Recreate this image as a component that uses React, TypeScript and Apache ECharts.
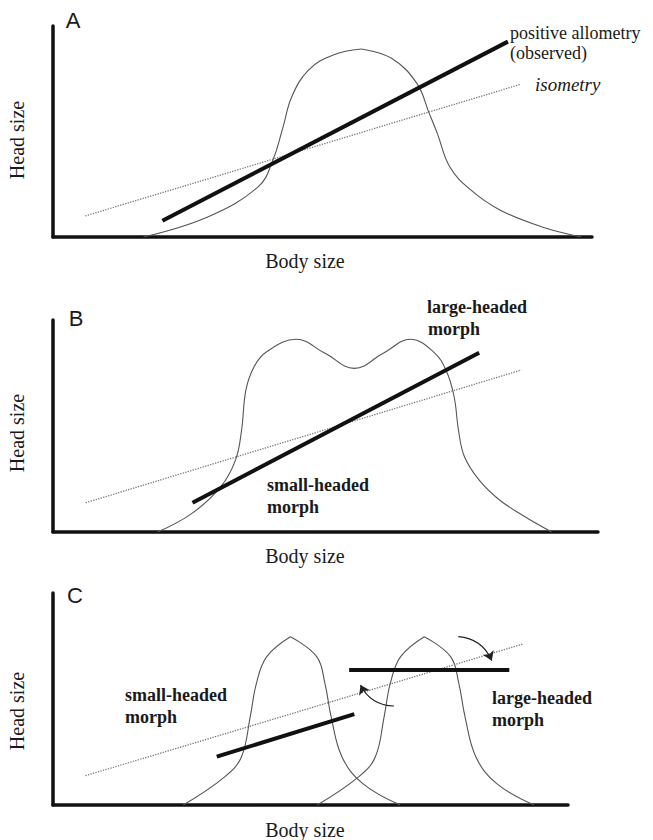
import React, { useEffect, useRef } from "react";
import * as echarts from "echarts";

// Panel A: unimodal size distribution
const curveAX = [16.8, 28.8, 38.1, 40.8, 42.7, 44.3, 47.4, 52, 57.2, 62.8, 67.5, 69.8, 71.3, 73.6, 77.5, 82.9, 90.6, 98];
const curveAY = [0, 9.6, 23.9, 36.5, 52.3, 66.5, 79.1, 86.3, 89.1, 84.7, 72.8, 58.6, 49.1, 33.3, 22.3, 12.8, 4.9, 0];
const allometryAX = [20.3, 84.4];
const allometryAY = [7.7, 92.6];
const isometryAX = [6, 86.8];
const isometryAY = [10, 72.4];

// Panel B: bimodal distribution
const curveBX = [19.2, 25.5, 30.8, 33.5, 34.6, 35.4, 36.9, 39.2, 44.6, 49.9, 55.3, 60.6, 65.6, 69.8, 72.1, 73.6, 74.4, 75.5, 78.2, 82, 86.6, 91.5];
const curveBY = [0, 8.8, 21.4, 34, 48, 67, 78, 85, 90.9, 84.3, 77.2, 84.3, 90.9, 85, 76.4, 63.8, 48, 35.5, 24.5, 15, 7.2, 0];
const allometryBX = [25.6, 78.2];
const allometryBY = [13.8, 84.6];
const isometryBX = [6, 85.9];
const isometryBY = [13.8, 76.4];

// Panel C: two separate morphs
const curveC1X = [25.3, 33.4, 36.6, 38.3, 39.5, 41.5, 46.1, 51.2, 52.8, 54, 56.1, 60.1, 67.4];
const curveC1Y = [0, 13.4, 22.8, 41.7, 57.4, 70, 79.4, 70, 57.4, 41.7, 22.8, 10.2, 0];
const curveC2X = [51.3, 59.4, 62.6, 64.3, 65.5, 67.5, 72.1, 77.2, 78.8, 80, 82.1, 86.1, 93.4];
const curveC2Y = [0, 13.4, 22.8, 41.7, 57.4, 70, 79.4, 70, 57.4, 41.7, 22.8, 10.2, 0];
const smallMorphCX = [31.8, 58.5];
const smallMorphCY = [22.8, 42.9];
const largeMorphCX = [57.5, 88.6];
const largeMorphCY = [63.7, 63.7];
const isometryCX = [6.3, 91.2];
const isometryCY = [13.8, 75.9];
const arrowDownX = [78.7, 85.2];
const arrowDownY = [79.4, 68.1];
const arrowUpX = [66.2, 59.7];
const arrowUpY = [46.7, 56.6];

const SERIF = '"Liberation Serif", "Times New Roman", serif';
const SANS = '"Liberation Sans", Arial, sans-serif';

const pts = (xs: number[], ys: number[]) => xs.map((x, i) => [x, ys[i]]);

export default function App() {
  const ref = useRef<HTMLDivElement>(null);
  useEffect(() => {
    if (!ref.current) return;
    const chart = echarts.init(ref.current, null, { renderer: "svg" });

    const grids = [
      { left: 53, top: 26, width: 539, height: 211 },
      { left: 53, top: 320, width: 545, height: 212 },
      { left: 53, top: 593, width: 515, height: 212 },
    ];
    const axisCommon = {
      type: "value" as const,
      min: 0,
      max: 100,
      axisTick: { show: false },
      axisLabel: { show: false },
      splitLine: { show: false },
      axisLine: { show: true, lineStyle: { color: "#111", width: 3.5 } },
    };
    const xAxes = grids.map((_, i) => ({ ...axisCommon, gridIndex: i }));
    const yAxes = grids.map((_, i) => ({ ...axisCommon, gridIndex: i }));

    const curveSeries = (i: number, data: number[][]) => ({
      type: "line",
      xAxisIndex: i,
      yAxisIndex: i,
      data,
      smooth: 0.4,
      showSymbol: false,
      symbol: "none",
      lineStyle: { color: "#555", width: 1.1 },
      z: 2,
    });
    const curve = (i: number, xs: number[], ys: number[]) => [curveSeries(i, pts(xs, ys))];
    // pointed peak: split the smooth curve at its maximum
    const peakedCurve = (i: number, xs: number[], ys: number[]) => {
      const all = pts(xs, ys);
      let k = 0;
      ys.forEach((y, j) => {
        if (y > ys[k]) k = j;
      });
      return [curveSeries(i, all.slice(0, k + 1)), curveSeries(i, all.slice(k))];
    };
    const iso = (i: number, xs: number[], ys: number[]) => ({
      type: "line",
      xAxisIndex: i,
      yAxisIndex: i,
      data: pts(xs, ys),
      showSymbol: false,
      symbol: "none",
      lineStyle: { color: "#777", width: 1.3, type: "dotted" },
      z: 3,
    });
    const thick = (i: number, xs: number[], ys: number[]) => ({
      type: "line",
      xAxisIndex: i,
      yAxisIndex: i,
      data: pts(xs, ys),
      showSymbol: false,
      symbol: "none",
      lineStyle: { color: "#111", width: 4 },
      z: 4,
    });
    const arrow = (xs: number[], ys: number[], c: number) => ({
      type: "lines",
      coordinateSystem: "cartesian2d",
      xAxisIndex: 2,
      yAxisIndex: 2,
      symbol: ["none", "arrow"],
      symbolSize: 9,
      lineStyle: { color: "#222", width: 1.2, curveness: c, opacity: 1 },
      data: [{ coords: pts(xs, ys) }],
      z: 5,
    });

    const text = (t: string, x: number, y: number, font: string, extra: any = {}) => ({
      type: "text",
      x,
      y,
      ...extra,
      style: { text: t, font, fill: "#1a1a1a", align: "left", verticalAlign: "middle", ...(extra.style || {}) },
    });
    const centered = { style: { align: "center" } };
    const rotated = { rotation: Math.PI / 2, style: { align: "center" } };
    const boldFont = `bold 18px ${SERIF}`;
    const labelFont = `20px ${SERIF}`;
    const letterFont = `22px ${SANS}`;

    const graphic = [
      text("A", 73, 20, letterFont, centered),
      text("B", 76, 318, letterFont, centered),
      text("C", 75, 595, letterFont, centered),
      text("Head size", 17, 140, labelFont, rotated),
      text("Head size", 17, 433, labelFont, rotated),
      text("Head size", 17, 711, labelFont, rotated),
      text("Body size", 305, 261, labelFont, centered),
      text("Body size", 305, 556, labelFont, centered),
      text("Body size", 305, 830, labelFont, centered),
      text("positive allometry", 510, 33, `18px ${SERIF}`),
      text("(observed)", 510, 53, `18px ${SERIF}`),
      text("isometry", 535, 84, `italic 19px ${SERIF}`),
      text("large-headed", 427, 307, boldFont),
      text("morph", 428, 329, boldFont),
      text("small-headed", 267, 485, boldFont),
      text("morph", 267, 507, boldFont),
      text("small-headed", 125, 695, boldFont),
      text("morph", 125, 717, boldFont),
      text("large-headed", 492, 698, boldFont),
      text("morph", 492, 720, boldFont),
    ];

    chart.setOption({
      animation: false,
      backgroundColor: "#fff",
      grid: grids,
      xAxis: xAxes,
      yAxis: yAxes,
      graphic,
      series: [
        ...peakedCurve(0, curveAX, curveAY),
        iso(0, isometryAX, isometryAY),
        thick(0, allometryAX, allometryAY),
        ...curve(1, curveBX, curveBY),
        iso(1, isometryBX, isometryBY),
        thick(1, allometryBX, allometryBY),
        ...peakedCurve(2, curveC1X, curveC1Y),
        ...peakedCurve(2, curveC2X, curveC2Y),
        iso(2, isometryCX, isometryCY),
        thick(2, smallMorphCX, smallMorphCY),
        thick(2, largeMorphCX, largeMorphCY),
        arrow(arrowDownX, arrowDownY, 0.3),
        arrow(arrowUpX, arrowUpY, 0.3),
      ],
    });
    return () => chart.dispose();
  }, []);
  return (
    <div
      ref={ref}
      style={{ position: "absolute", left: 0, top: 0, width: 653, height: 840, background: "#fff" }}
    />
  );
}
